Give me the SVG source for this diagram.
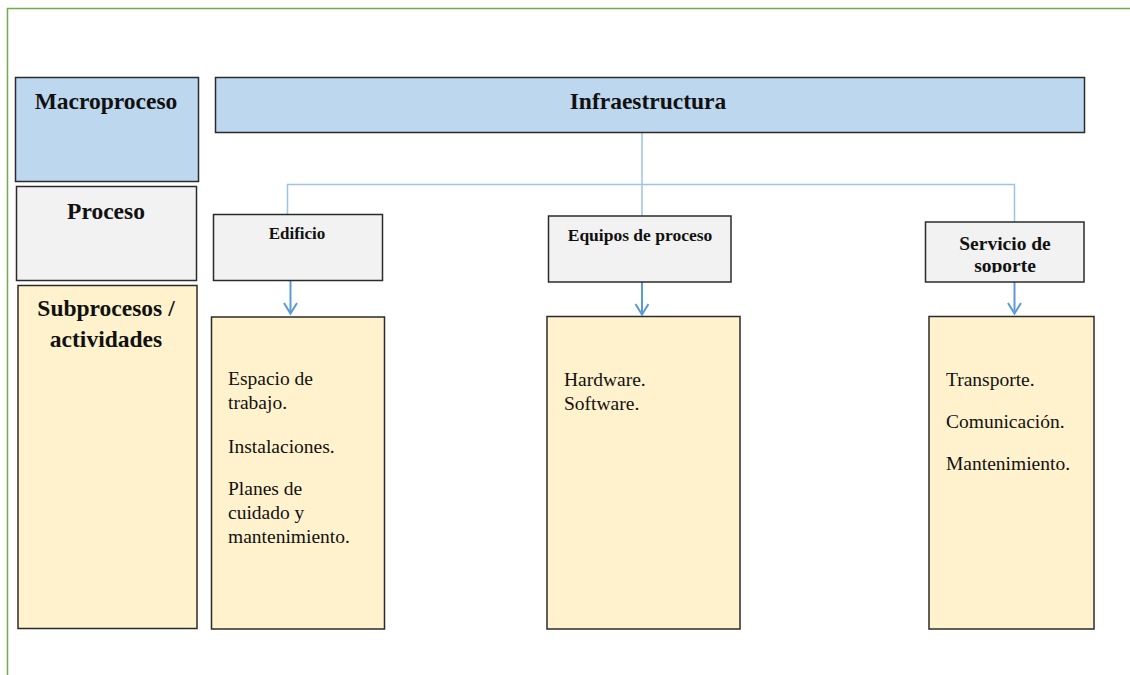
<svg xmlns="http://www.w3.org/2000/svg" width="1130" height="675" viewBox="0 0 1130 675">
  <style>
    .box { stroke: #2b2b2b; stroke-width: 1.5; }
    .macro { fill: #BDD7EE; }
    .proc { fill: #F2F2F2; }
    .sub { fill: #FFF2CC; }
    .hdr { font-family: "Liberation Serif", "Times New Roman", serif; font-weight: bold; fill: #111; text-anchor: middle; }
    .body { font-family: "Liberation Serif", "Times New Roman", serif; font-size: 19.5px; fill: #111; }
    .link { fill: none; stroke: #9DC3E6; stroke-width: 1.5; }
    .arrow { fill: none; stroke: #5B9BD5; stroke-width: 2; }
  </style>
  <defs>
    <!-- the second line of the support label overflows its box and is cut off -->
    <clipPath id="clipServicio">
      <rect x="926" y="222" width="158" height="50.5"/>
    </clipPath>
  </defs>

  <rect width="1130" height="675" fill="#ffffff"/>

  <!-- page frame -->
  <path d="M7.5,675 V8.5 H1130" fill="none" stroke="#70AD47" stroke-width="1.5"/>

  <!-- legend column -->
  <g id="legend-macroproceso">
    <rect class="box macro" x="15.5" y="77.5" width="183" height="104"/>
    <text class="hdr" x="106" y="109" font-size="23.5">Macroproceso</text>
  </g>
  <g id="legend-proceso">
    <rect class="box proc" x="16.5" y="186.5" width="180" height="94"/>
    <text class="hdr" x="106" y="219" font-size="23.5">Proceso</text>
  </g>
  <g id="legend-subprocesos">
    <rect class="box sub" x="18" y="285.5" width="179" height="343"/>
    <text class="hdr" x="106" y="316" font-size="23.5">Subprocesos /</text>
    <text class="hdr" x="106" y="347" font-size="23.5">actividades</text>
  </g>

  <!-- connectors -->
  <g id="connectors">
    <path class="link" d="M642,132 V216"/>
    <path class="link" d="M287.5,214 V184.5 H1014.5 V222"/>
    <path class="arrow" d="M290.5,280 V313"/>
    <path class="arrow" d="M284,303 L290.5,313.5 L297,303"/>
    <path class="arrow" d="M642,282 V314"/>
    <path class="arrow" d="M635.5,304 L642,314.5 L648.5,304"/>
    <path class="arrow" d="M1014.5,282 V313"/>
    <path class="arrow" d="M1008,303 L1014.5,313.5 L1021,303"/>
  </g>

  <!-- macroprocess -->
  <g id="infraestructura">
    <rect class="box macro" x="215.5" y="77.5" width="869" height="55"/>
    <text class="hdr" x="648" y="109" font-size="23.5">Infraestructura</text>
  </g>

  <!-- processes -->
  <g id="edificio">
    <rect class="box proc" x="213.5" y="214.5" width="169" height="66"/>
    <text class="hdr" x="297" y="239" font-size="17">Edificio</text>
  </g>
  <g id="equipos">
    <rect class="box proc" x="548.5" y="216" width="182.5" height="66"/>
    <text class="hdr" x="640" y="241" font-size="17.5">Equipos de proceso</text>
  </g>
  <g id="servicio">
    <rect class="box proc" x="925.5" y="222" width="158.5" height="60"/>
    <g clip-path="url(#clipServicio)">
      <text class="hdr" x="1005" y="250" font-size="19.5">Servicio de</text>
      <text class="hdr" x="1005" y="272" font-size="19.5">soporte</text>
    </g>
  </g>

  <!-- subprocesses -->
  <g id="edificio-actividades">
    <rect class="box sub" x="211.5" y="317" width="173" height="312"/>
    <text class="body" x="228" y="385">Espacio de</text>
    <text class="body" x="228" y="409">trabajo.</text>
    <text class="body" x="228" y="453">Instalaciones.</text>
    <text class="body" x="228" y="495">Planes de</text>
    <text class="body" x="228" y="519">cuidado y</text>
    <text class="body" x="228" y="543">mantenimiento.</text>
  </g>
  <g id="equipos-actividades">
    <rect class="box sub" x="547" y="316.5" width="193" height="312.5"/>
    <text class="body" x="564" y="386">Hardware.</text>
    <text class="body" x="564" y="410">Software.</text>
  </g>
  <g id="servicio-actividades">
    <rect class="box sub" x="929" y="316.5" width="165" height="312.5"/>
    <text class="body" x="946" y="386">Transporte.</text>
    <text class="body" x="946" y="428">Comunicación.</text>
    <text class="body" x="946" y="470">Mantenimiento.</text>
  </g>
</svg>
